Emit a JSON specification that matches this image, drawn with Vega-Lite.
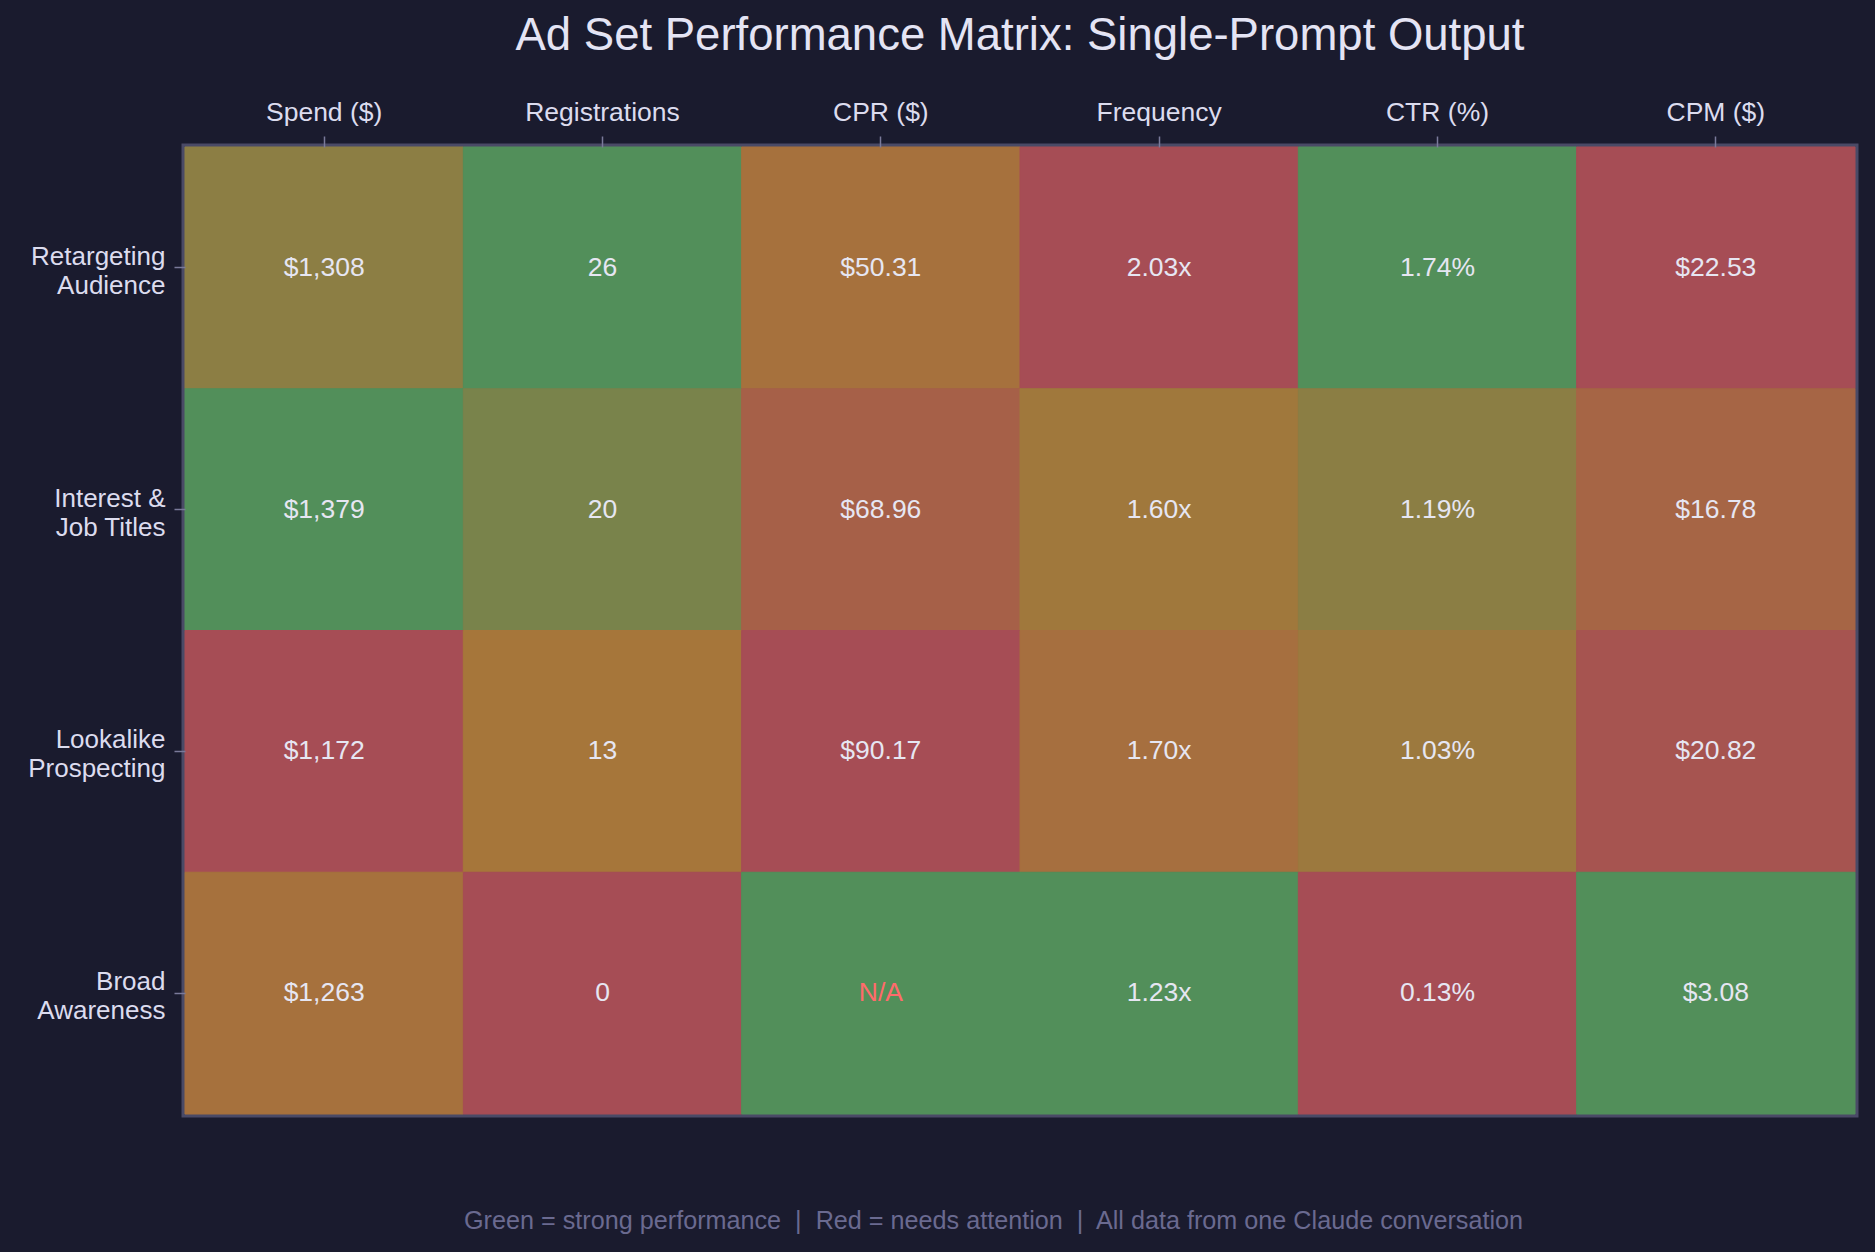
{
  "$schema": "https://vega.github.io/schema/vega-lite/v6.json",
  "autosize": "none",
  "width": 1670,
  "height": 967,
  "padding": {"left": 185, "top": 147, "right": 20, "bottom": 138},
  "background": "#1a1b2e",
  "title": {
    "text": "Ad Set Performance Matrix: Single-Prompt Output",
    "fontSize": 45.5,
    "font": "Liberation Sans",
    "fontWeight": "normal",
    "color": "#e4e4f4",
    "anchor": "middle",
    "offset": 40
  },
  "config": {
    "font": "Liberation Sans",
    "view": {"stroke": "#4a4a66", "strokeWidth": 7}
  },
  "data": {
    "values": [
      {"adset": "Retargeting Audience", "metric": "Spend ($)", "display": "$1,308", "score": 0.657},
      {"adset": "Retargeting Audience", "metric": "Registrations", "display": "26", "score": 1.0},
      {"adset": "Retargeting Audience", "metric": "CPR ($)", "display": "$50.31", "score": 0.442},
      {"adset": "Retargeting Audience", "metric": "Frequency", "display": "2.03x", "score": 0.0},
      {"adset": "Retargeting Audience", "metric": "CTR (%)", "display": "1.74%", "score": 1.0},
      {"adset": "Retargeting Audience", "metric": "CPM ($)", "display": "$22.53", "score": 0.0},
      {"adset": "Interest & Job Titles", "metric": "Spend ($)", "display": "$1,379", "score": 1.0},
      {"adset": "Interest & Job Titles", "metric": "Registrations", "display": "20", "score": 0.769},
      {"adset": "Interest & Job Titles", "metric": "CPR ($)", "display": "$68.96", "score": 0.235},
      {"adset": "Interest & Job Titles", "metric": "Frequency", "display": "1.60x", "score": 0.5375},
      {"adset": "Interest & Job Titles", "metric": "CTR (%)", "display": "1.19%", "score": 0.658},
      {"adset": "Interest & Job Titles", "metric": "CPM ($)", "display": "$16.78", "score": 0.296},
      {"adset": "Lookalike Prospecting", "metric": "Spend ($)", "display": "$1,172", "score": 0.0},
      {"adset": "Lookalike Prospecting", "metric": "Registrations", "display": "13", "score": 0.5},
      {"adset": "Lookalike Prospecting", "metric": "CPR ($)", "display": "$90.17", "score": 0.0},
      {"adset": "Lookalike Prospecting", "metric": "Frequency", "display": "1.70x", "score": 0.4125},
      {"adset": "Lookalike Prospecting", "metric": "CTR (%)", "display": "1.03%", "score": 0.559},
      {"adset": "Lookalike Prospecting", "metric": "CPM ($)", "display": "$20.82", "score": 0.088},
      {"adset": "Broad Awareness", "metric": "Spend ($)", "display": "$1,263", "score": 0.44},
      {"adset": "Broad Awareness", "metric": "Registrations", "display": "0", "score": 0.0},
      {"adset": "Broad Awareness", "metric": "CPR ($)", "display": "N/A", "score": 1.0},
      {"adset": "Broad Awareness", "metric": "Frequency", "display": "1.23x", "score": 1.0},
      {"adset": "Broad Awareness", "metric": "CTR (%)", "display": "0.13%", "score": 0.0},
      {"adset": "Broad Awareness", "metric": "CPM ($)", "display": "$3.08", "score": 1.0}
    ]
  },
  "resolve": {"axis": {"x": "independent"}},
  "layer": [
    {
      "mark": {"type": "rect", "strokeWidth": 1},
      "encoding": {
        "x": {
          "field": "metric", "type": "nominal",
          "sort": ["Spend ($)", "Registrations", "CPR ($)", "Frequency", "CTR (%)", "CPM ($)"],
          "scale": {"paddingInner": 0, "paddingOuter": 0},
          "axis": {
            "orient": "top", "title": null, "labelAngle": 0,
            "labelFontSize": 26.5, "labelColor": "#dcdcee", "labelPadding": 9.5,
            "tickSize": 11, "tickColor": "#7a7a9a", "tickWidth": 1.5, "domain": false
          }
        },
        "y": {
          "field": "adset", "type": "nominal",
          "sort": ["Retargeting Audience", "Interest & Job Titles", "Lookalike Prospecting", "Broad Awareness"],
          "scale": {"paddingInner": 0, "paddingOuter": 0},
          "axis": {
            "title": null,
            "labelExpr": "datum.value == 'Interest & Job Titles' ? ['Interest &', 'Job Titles'] : split(datum.value, ' ')",
            "labelFontSize": 26, "labelColor": "#dcdcee", "labelPadding": 9,
            "labelLineHeight": 29, "labelBaseline": "middle", "labelOffset": -11,
            "tickSize": 11, "tickColor": "#7a7a9a", "tickWidth": 1.5, "domain": false
          }
        },
        "color": {
          "field": "score", "type": "quantitative",
          "scale": {"domain": [0, 0.5, 1], "range": ["#a64d55", "#a6763a", "#528f5a"], "interpolate": "rgb"},
          "legend": null
        },
        "stroke": {
          "field": "score", "type": "quantitative",
          "scale": {"domain": [0, 0.5, 1], "range": ["#a64d55", "#a6763a", "#528f5a"], "interpolate": "rgb"},
          "legend": null
        }
      }
    },
    {
      "mark": {"type": "text", "fontSize": 26.5, "align": "center", "baseline": "middle"},
      "encoding": {
        "x": {
          "field": "metric", "type": "nominal",
          "sort": ["Spend ($)", "Registrations", "CPR ($)", "Frequency", "CTR (%)", "CPM ($)"],
          "axis": {
            "orient": "bottom", "labels": false, "ticks": false, "domain": false,
            "title": "Green = strong performance \u00a0|\u00a0 Red = needs attention \u00a0|\u00a0 All data from one Claude conversation",
            "titleFontSize": 25.2, "titleFontWeight": "normal", "titleColor": "#6a6a90",
            "titlePadding": 94, "titleX": 808, "titleAlign": "center", "titleAnchor": "start"
          }
        },
        "y": {
          "field": "adset", "type": "nominal",
          "sort": ["Retargeting Audience", "Interest & Job Titles", "Lookalike Prospecting", "Broad Awareness"]
        },
        "text": {"field": "display"},
        "color": {
          "condition": {"test": "datum.display == 'N/A'", "value": "#ff6b6b"},
          "value": "#e6e6f2"
        }
      }
    }
  ]
}
